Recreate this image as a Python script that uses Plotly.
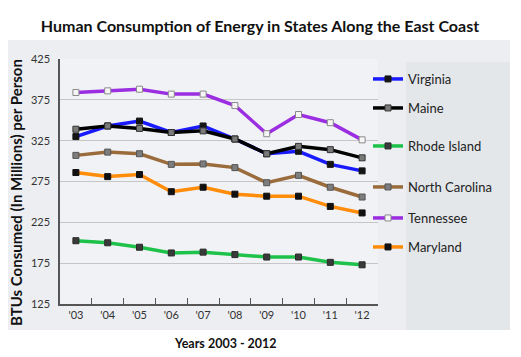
import plotly.graph_objects as go

years = ["'03", "'04", "'05", "'06", "'07", "'08", "'09", "'10", "'11", "'12"]
virginia = [330, 343, 349, 335, 343, 327, 309, 312, 296, 288]
maine = [339, 343, 340, 335, 337, 327, 309, 318, 314, 304]
rhode_island = [202.5, 200, 194.5, 187.5, 188.5, 185.5, 182.5, 182.5, 176, 173]
north_carolina = [307, 311, 309, 296, 296.5, 292, 273.5, 282.5, 268, 256]
tennessee = [384, 386, 388, 382, 382, 368, 333.5, 357, 347, 326]
maryland = [286, 281, 283.5, 262.5, 268, 259.5, 257, 257, 244.5, 236.5]
y_ticks = [125, 175, 225, 275, 325, 375, 425]

W, H = 521, 357
L, R, T, B = 52, 151, 51, 61
pw, ph = W - L - R, H - T - B

def px_x(p):
    return (p - L) / pw

def px_y(p):
    return 1 - (p - T) / ph

series = [
    ("Virginia", virginia, "#1a1aff", "#151515", "#151515", 78),
    ("Maine", maine, "#000000", "#7a7a7a", "#333333", 107),
    ("Rhode Island", rhode_island, "#1ec24a", "#3a3a3a", "#2a2a2a", 145),
    ("North Carolina", north_carolina, "#9a6c3c", "#7d7d7d", "#555555", 186),
    ("Tennessee", tennessee, "#9a2ee0", "#f6f6f6", "#8a8a8a", 217),
    ("Maryland", maryland, "#ff8c0a", "#111111", "#111111", 246),
]

fig = go.Figure()
layout_legends = {}
for i, (name, vals, lc, mfill, mline, ly) in enumerate(series):
    key = "legend" if i == 0 else f"legend{i+1}"
    fig.add_trace(go.Scatter(
        x=years, y=vals, name=name, mode="lines+markers",
        line=dict(color=lc, width=3.5),
        marker=dict(symbol="square", size=6, color=mfill, line=dict(color=mline, width=1)),
        legend=key, showlegend=True,
    ))
    layout_legends[key] = dict(
        x=px_x(360), y=px_y(ly - 7), xanchor="left", yanchor="middle",
        bgcolor="rgba(0,0,0,0)", borderwidth=0,
        font=dict(family="Lato", size=13, color="#222222"),
        itemwidth=30, visible=True,
    )

shapes = [
    dict(type="rect", xref="paper", yref="paper", layer="below",
         x0=px_x(0), x1=px_x(502), y0=px_y(322), y1=px_y(32),
         fillcolor="#eceef1", line=dict(width=0)),
    dict(type="rect", xref="paper", yref="paper", layer="below",
         x0=px_x(398), x1=px_x(502), y0=px_y(322), y1=px_y(54),
         fillcolor="#e3e7ea", line=dict(width=0)),
    dict(type="rect", xref="paper", yref="paper", layer="below",
         x0=0, x1=1, y0=0, y1=1,
         fillcolor="#f1f2f5", line=dict(width=0)),
]

annotations = [
    dict(text="<b>BTUs Consumed (In Millions) per Person</b>", xref="paper", yref="paper",
         x=px_x(8), y=px_y(185), textangle=-90, showarrow=False,
         font=dict(family="Lato", size=15, color="#111111"), xanchor="center", yanchor="middle"),
    dict(text="<b>Years 2003 - 2012</b>", xref="paper", yref="paper",
         x=px_x(217), y=px_y(335), showarrow=False,
         font=dict(family="Lato", size=12.5, color="#111111"), xanchor="center", yanchor="middle"),
]

fig.update_layout(
    width=W, height=H,
    margin=dict(l=L, r=R, t=T, b=B, autoexpand=False),
    paper_bgcolor="white", plot_bgcolor="rgba(0,0,0,0)",
    showlegend=True,
    title=dict(text="<b>Human Consumption of Energy in States Along the East Coast</b>",
               x=252 / W, xanchor="center", y=1 - 18 / H, yanchor="middle",
               font=dict(family="Lato", size=16, color="#111111")),
    shapes=shapes, annotations=annotations,
    **layout_legends,
)
fig.update_xaxes(
    type="category", range=[-0.5, 9.5], showgrid=False,
    showline=True, linecolor="#555555", linewidth=1.5,
    ticks="inside", tickson="boundaries", ticklen=6, tickcolor="#555555",
    tickfont=dict(family="Lato", size=11, color="#333333"), fixedrange=True,
)
fig.update_yaxes(
    range=[125, 425], tickvals=y_ticks, showgrid=True, gridcolor="#c6c6c6", gridwidth=1,
    showline=True, linecolor="#555555", linewidth=1.5, zeroline=False, ticks="",
    ticklabelstandoff=6,
    tickfont=dict(family="Lato", size=11, color="#333333"), fixedrange=True,
)

fig.write_html("out.html")
